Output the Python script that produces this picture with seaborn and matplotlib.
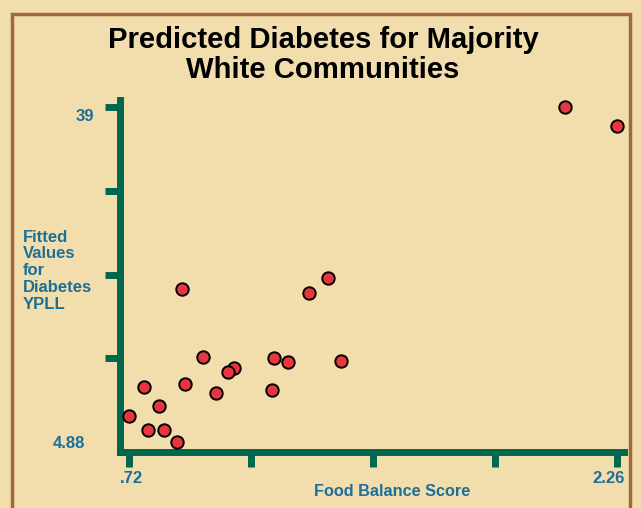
import matplotlib
matplotlib.use("Agg")
import matplotlib.pyplot as plt
import matplotlib.transforms as mtransforms
from matplotlib.patches import Rectangle
import seaborn as sns
import pandas as pd

# ---- data ----
food_balance = [0.886, 1.347, 1.287, 0.953, 1.177, 1.221, 1.389, 1.051, 1.032, 0.766,
                0.896, 0.996, 1.172, 0.814, 0.72, 0.781, 0.831, 0.871, 2.095, 2.26]
fitted_ypll = [20.46, 21.55, 20.06, 13.54, 13.44, 13.03, 13.16, 12.39, 12.04, 10.51,
               10.82, 9.87, 10.21, 8.55, 7.53, 6.10, 6.13, 4.88, 39.0, 37.06]
x_ticks = [0.72, 1.105, 1.49, 1.875, 2.26]
x_tick_labels = [".72", "", "", "", "2.26"]
y_ticks = [13.41, 21.94, 30.47, 39.0]
y_tick_labels = ["", "", "", "39"]
y_min_label = "4.88"

title = "Predicted Diabetes for Majority\nWhite Communities"
x_label = "Food Balance Score"
y_label = "Fitted\nValues\nfor\nDiabetes\nYPLL"

df = pd.DataFrame({"x": food_balance, "y": fitted_ypll})

BG = "#F2DEAC"
GREEN = "#00674F"
BLUE = "#1B6F98"
BROWN = "#A4673A"
RED = "#E8363E"

sns.set_theme(style="white")
plt.rcParams["font.family"] = ["Liberation Sans", "DejaVu Sans"]

fig = plt.figure(figsize=(6.41, 5.08), dpi=100, facecolor=BG)
ax = fig.add_axes([120/641, 1-452/508, (624-120)/641, (452-100)/508])
ax.set_facecolor(BG)

sns.scatterplot(data=df, x="x", y="y", ax=ax, s=80, color=RED,
                edgecolor="black", linewidth=1.4, zorder=5, clip_on=False)

# pixel mapping: x .72 -> 129px, 2.26 -> 617px ; y 4.88 -> 442px, 39 -> 107px
ax.set_xlim(0.72 - 9/316.9, 0.72 + 495/316.9)
ax.set_ylim(4.88 - 10*0.10185, 39.0 + 7*0.10185)

for side in ["top", "right"]:
    ax.spines[side].set_visible(False)
for side in ["left", "bottom"]:
    sp = ax.spines[side]
    sp.set_color(GREEN)
    sp.set_linewidth(5)
    sp.set_capstyle("projecting")

ax.set_xticks(x_ticks)
ax.set_xticklabels(x_tick_labels)
ax.set_yticks(y_ticks)
ax.set_yticklabels(y_tick_labels)
ax.set_yticks([4.88], minor=True)
ax.set_yticklabels([y_min_label], minor=True)

ax.tick_params(axis="both", which="major", direction="out", length=10.5, width=5,
               color=GREEN, labelcolor=BLUE, labelsize=12, left=True, bottom=True)
ax.tick_params(axis="x", which="major", pad=3)
ax.tick_params(axis="y", which="major", pad=8)
ax.tick_params(axis="y", which="minor", left=True, length=0, pad=25,
               labelcolor=BLUE, labelsize=12)
for lab in ax.get_xticklabels() + ax.get_yticklabels() + ax.get_yticklabels(minor=True):
    lab.set_fontweight("bold")
# nudge labels like the reference
xl = ax.get_xticklabels()
xl[-1].set_transform(xl[-1].get_transform() + mtransforms.ScaledTranslation(-8/100, 0, fig.dpi_scale_trans))
xl[0].set_transform(xl[0].get_transform() + mtransforms.ScaledTranslation(2/100, 0, fig.dpi_scale_trans))
yl = ax.get_yticklabels()
yl[-1].set_transform(yl[-1].get_transform() + mtransforms.ScaledTranslation(0, -8/100, fig.dpi_scale_trans))

ax.set_xlabel(x_label, color=BLUE, fontsize=11.7, fontweight="bold")
ax.xaxis.set_label_coords((392-120)/504, -(491-452)/352, transform=ax.transAxes)
ax.xaxis.label.set_va("center")
ax.set_ylabel("")

# multi-line text with va="baseline" anchors the last line's baseline
fig.text(23/641, 1-309/508, y_label, ha="left", va="baseline", color=BLUE,
         fontsize=12, fontweight="bold", linespacing=1.155)

fig.text(323/641, 1-78.5/508, title, ha="center", va="baseline", color="black",
         fontsize=21.1, fontweight="bold", linespacing=1.11)

fig.patches.append(Rectangle((12/641, -0.05), (630-12)/641, 1.05-14/508,
                             transform=fig.transFigure, fill=False,
                             edgecolor=BROWN, linewidth=2.5))

fig.savefig("out.png", dpi=100, facecolor=BG)
